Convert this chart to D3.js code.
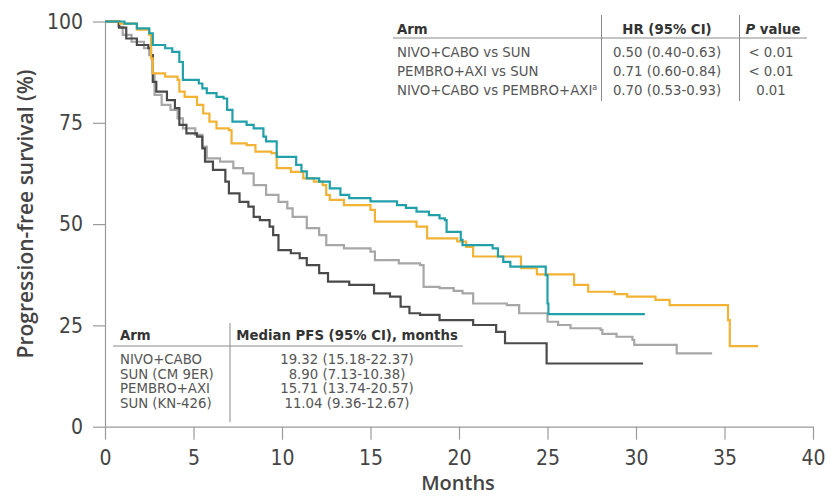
<!DOCTYPE html>
<html>
<head>
<meta charset="utf-8">
<script src="https://cdn.jsdelivr.net/npm/d3@7"></script>
<style>
  body { margin: 0; background: #fff; }
  svg { display: block; }
</style>
</head>
<body>
<svg id="chart" width="827" height="497"></svg>
<script>
// ---- data (months, % PFS after each step) ----
const nivoCaboMonths = [0, 1.1, 1.8, 2.5, 2.7, 3.4, 3.8, 4.2, 4.4, 5.3, 5.5, 5.75, 6.3, 6.7, 6.9, 7.2, 8.0, 8.4, 8.95, 9.1, 9.7, 10.8, 11.1, 11.4, 12.1, 12.7, 13.3, 13.8, 15.0, 16.5, 17.0, 17.6, 18.3, 18.9, 19.2, 19.3, 20.1, 20.2, 21.9, 22.2, 22.5, 22.9, 24.9, 25.0, 25.05, 30.5];
const nivoCaboPfs    = [100, 99.5, 98.3, 97.1, 94.2, 93.4, 92.5, 90, 85.6, 84.7, 83.5, 82.3, 81.4, 81, 78.2, 75.3, 74.5, 73.6, 71.6, 70.4, 66.6, 64.6, 63, 61.3, 60.5, 58.8, 57.2, 56.4, 55.6, 54.7, 54, 53.1, 52.2, 51.4, 51, 48.1, 46.1, 44.8, 44, 42, 40.7, 39.5, 37.4, 30.4, 27.8, 27.8];

const pembroAxiMonths = [0, 0.85, 1.8, 2.5, 2.6, 2.7, 3.4, 4.1, 4.2, 4.5, 5.2, 5.55, 5.9, 6.3, 7.0, 7.15, 8.0, 8.5, 9.4, 9.7, 10.5, 11.2, 11.8, 12.3, 12.5, 12.7, 13.5, 15.0, 15.25, 17.6, 18.2, 19.9, 20.4, 20.8, 23.5, 24.4, 26.5, 27.3, 28.8, 29.5, 31.1, 31.9, 35.2, 35.3, 36.9];
const pembroAxiPfs    = [100, 99.5, 98, 96.7, 90.9, 87.2, 86.4, 85.6, 82.7, 81.4, 79.4, 77.3, 75.3, 73.6, 73.2, 69.9, 69.5, 67.9, 67.5, 63.8, 62.9, 61.3, 60.5, 59.6, 57.2, 56, 54.7, 53.5, 50.6, 49.4, 46.5, 45.7, 44.4, 42, 39.1, 37.6, 35, 33.3, 32.7, 32.1, 31.3, 30, 26.3, 19.9, 19.9];

const sunKnMonths = [0, 0.75, 1.0, 1.5, 2.2, 2.5, 2.7, 2.8, 3.2, 3.7, 4.1, 4.4, 5.1, 5.5, 5.75, 6.5, 7.25, 7.8, 8.4, 9.1, 9.8, 10.3, 10.6, 11.4, 12.1, 12.5, 13.5, 15.0, 15.25, 16.6, 17.8, 18.0, 18.9, 19.7, 20.2, 20.8, 22.7, 23.4, 25.0, 25.6, 26.3, 28.0, 28.1, 28.9, 29.8, 29.9, 32.3, 34.3];
const sunKnPfs    = [100, 98.7, 96.7, 95, 93.4, 91.7, 87.2, 81.9, 79.4, 78.2, 76.1, 73.6, 72, 69.1, 66.2, 65.4, 63.8, 62.5, 59.6, 57.2, 55.5, 53.9, 51.8, 49, 47.3, 44.8, 44, 43.2, 41.1, 40.3, 39.9, 34.5, 34.2, 33.5, 32.9, 30.4, 30, 28, 25.9, 25.1, 24.3, 23.9, 22.9, 22.2, 21.4, 20.2, 18.1, 18.1];

const sunCmMonths = [0, 0.8, 1.2, 1.8, 2.45, 2.6, 2.7, 2.9, 3.5, 3.95, 4.2, 4.6, 5.2, 5.5, 5.65, 6.1, 6.8, 7.0, 7.6, 8.1, 8.4, 8.75, 9.3, 9.5, 9.8, 10.5, 11.0, 11.4, 12.1, 12.6, 13.8, 15.2, 16.1, 16.7, 17.2, 17.8, 18.9, 20.8, 22.1, 22.6, 24.95, 30.4];
const sunCmPfs    = [100, 98.5, 95.8, 94.2, 93.4, 91.7, 85.1, 82.7, 80.6, 78.6, 74.5, 72.4, 71.6, 68.7, 65.4, 63.4, 60.5, 57.6, 55.5, 54.3, 51.8, 51, 49.4, 47.3, 43.6, 42.8, 41.6, 39.9, 37.9, 35.8, 35, 32.9, 32.1, 29.6, 28, 27.6, 26.3, 25.1, 23.4, 20.6, 15.6, 15.6];

const xTicks = [0, 5, 10, 15, 20, 25, 30, 35, 40];
const yTicks = [0, 25, 50, 75, 100];

// hazard ratio table
const hrArms   = ["NIVO+CABO vs SUN", "PEMBRO+AXI vs SUN", "NIVO+CABO vs PEMBRO+AXI"];
const hrValues = ["0.50 (0.40-0.63)", "0.71 (0.60-0.84)", "0.70 (0.53-0.93)"];
const pValues  = ["< 0.01", "< 0.01", "0.01"];

// median PFS table
const medianArms   = ["NIVO+CABO", "SUN (CM 9ER)", "PEMBRO+AXI", "SUN (KN-426)"];
const medianValues = ["19.32 (15.18-22.37)", "8.90 (7.13-10.38)", "15.71 (13.74-20.57)", "11.04 (9.36-12.67)"];

const svg = d3.select("#chart");
const x = d3.scaleLinear().domain([0, 40]).range([105, 813]);
const y = d3.scaleLinear().domain([0, 100]).range([426.7, 21.5]);

const axisColor = "#9a9a9a";
const labelFont = "'Open Sans', sans-serif";
const tickFont = "'Liberation Sans Narrow', 'DejaVu Sans Condensed', sans-serif";
const tableFont = "'DejaVu Sans', sans-serif";

// axes
const gx = svg.append("g")
  .attr("transform", `translate(0,${y(0)})`)
  .call(d3.axisBottom(x).tickValues(xTicks).tickSize(13).tickSizeOuter(0).tickPadding(10));
const gy = svg.append("g")
  .attr("transform", `translate(${x(0)},0)`)
  .call(d3.axisLeft(y).tickValues(yTicks).tickSize(12).tickSizeOuter(0).tickPadding(10));

[gx, gy].forEach(g => {
  g.select(".domain").attr("stroke", axisColor).attr("stroke-width", 1.2);
  g.selectAll(".tick line").attr("stroke", axisColor).attr("stroke-width", 1.2);
  g.selectAll(".tick text").attr("fill", "#444").style("font-family", tickFont).style("font-size", "21px");
});

svg.append("text")
  .attr("x", 458).attr("y", 490)
  .attr("text-anchor", "middle")
  .style("font-family", labelFont).style("font-size", "20px").style("font-weight", 600)
  .attr("fill", "#444")
  .text("Months");

svg.append("text")
  .attr("transform", "translate(33,214) rotate(-90)")
  .attr("text-anchor", "middle")
  .style("font-family", labelFont).style("font-size", "21px").style("font-weight", 600)
  .attr("fill", "#444")
  .text("Progression-free survival (%)");

// KM curves
const line = d3.line()
  .x(d => x(d[0]))
  .y(d => y(d[1]))
  .curve(d3.curveStepAfter);

const curves = [
  { months: sunKnMonths, pfs: sunKnPfs, color: "#a7a7a7" },
  { months: sunCmMonths, pfs: sunCmPfs, color: "#4a4a4a" },
  { months: pembroAxiMonths, pfs: pembroAxiPfs, color: "#f2b234" },
  { months: nivoCaboMonths, pfs: nivoCaboPfs, color: "#22a0a9" }
];

curves.forEach(c => {
  svg.append("path")
    .datum(d3.zip(c.months, c.pfs))
    .attr("fill", "none")
    .attr("stroke", c.color)
    .attr("stroke-width", 2.2)
    .attr("d", line);
});

// ---- HR table (top right) ----
const hr = svg.append("g").style("font-family", tableFont).style("font-size", "13.3px");
hr.append("line").attr("x1", 393).attr("x2", 807).attr("y1", 38).attr("y2", 38)
  .attr("stroke", "#8a8a8a").attr("stroke-width", 1.2);
[601.5, 739.5].forEach(xx => {
  hr.append("line").attr("x1", xx).attr("x2", xx).attr("y1", 15).attr("y2", 101)
    .attr("stroke", "#8a8a8a").attr("stroke-width", 1);
});
hr.append("text").attr("x", 397).attr("y", 34).attr("fill", "#333").style("font-weight", "bold").text("Arm");
hr.append("text").attr("x", 667).attr("y", 34).attr("fill", "#333").attr("text-anchor", "middle")
  .style("font-weight", "bold").text("HR (95% CI)");
const pHead = hr.append("text").attr("x", 773).attr("y", 34).attr("fill", "#333").attr("text-anchor", "middle")
  .style("font-weight", "bold");
pHead.append("tspan").style("font-style", "italic").text("P");
pHead.append("tspan").text(" value");

hrArms.forEach((arm, i) => {
  const yy = 57 + i * 19;
  const t = hr.append("text").attr("x", 397).attr("y", yy).attr("fill", "#555").text(arm);
  if (i === 2) t.append("tspan").attr("dy", -5).style("font-size", "8px").text("a");
  hr.append("text").attr("x", 667).attr("y", yy).attr("fill", "#555").attr("text-anchor", "middle").text(hrValues[i]);
  hr.append("text").attr("x", 771).attr("y", yy).attr("fill", "#555").attr("text-anchor", "middle").text(pValues[i]);
});

// ---- median PFS table (bottom left) ----
const md = svg.append("g").style("font-family", tableFont).style("font-size", "13.3px");
md.append("line").attr("x1", 113).attr("x2", 463).attr("y1", 346).attr("y2", 346)
  .attr("stroke", "#8a8a8a").attr("stroke-width", 1.2);
md.append("line").attr("x1", 230).attr("x2", 230).attr("y1", 323).attr("y2", 422)
  .attr("stroke", "#8a8a8a").attr("stroke-width", 1);
md.append("text").attr("x", 120).attr("y", 340).attr("fill", "#333").style("font-weight", "bold").text("Arm");
md.append("text").attr("x", 347).attr("y", 340).attr("fill", "#333").attr("text-anchor", "middle")
  .style("font-weight", "bold").text("Median PFS (95% CI), months");
medianArms.forEach((arm, i) => {
  const yy = 364 + i * 14.7;
  md.append("text").attr("x", 120).attr("y", yy).attr("fill", "#555").text(arm);
  md.append("text").attr("x", 347).attr("y", yy).attr("fill", "#555").attr("text-anchor", "middle").text(medianValues[i]);
});
</script>
</body>
</html>
